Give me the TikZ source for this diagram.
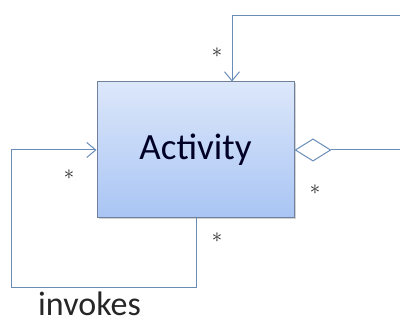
\documentclass[tikz,border=0pt]{standalone}
\usepackage{fontspec}
\setmainfont{Carlito}
\usetikzlibrary{arrows.meta,shadows}
\definecolor{linec}{HTML}{6A8DB8}
\definecolor{boxtop}{HTML}{DCE7FA}
\definecolor{boxbot}{HTML}{A9C5F4}
\definecolor{boxedge}{HTML}{6F819C}
\tikzset{
  conn/.style={draw=linec, line width=1pt},
  openarrow/.style={-{Straight Barb[length=9pt,width=15pt,line width=1pt]}},
  mult/.style={font=\fontsize{21}{21}\selectfont, text=black!85, inner sep=0pt},
  cls/.style={draw=boxedge, line width=1pt, top color=boxtop, bottom color=boxbot,
    minimum width=197pt, minimum height=136pt, inner sep=0pt,
    drop shadow={shadow xshift=1.5pt, shadow yshift=-1.5pt, opacity=0.35},
    font=\fontsize{37}{37}\selectfont, text=black!85!blue}
}
\begin{document}
\begin{tikzpicture}[x=1pt,y=-1pt]
\useasboundingbox (0,0) rectangle (400,323);
\node[cls] (act) at (195.5,150) {Activity};
% top self association
\coordinate (t1) at (400,16);
\coordinate (t2) at (232,16);
\draw[conn, openarrow] (t1) -- (t2) -- (t2 |- act.north);
\node[mult] (m1) at (217,53) {$\ast$};
% aggregation from right
\coordinate (r1) at (400,150);
\draw[conn, -{Diamond[open,fill=white,length=37pt,width=23pt,line width=1pt]}] (r1) -- (act.east);
\node[mult] (m2) at (315,190) {$\ast$};
% invokes loop
\coordinate (b1) at (196,288);
\coordinate (b2) at (11,288);
\coordinate (b3) at (11,150);
\draw[conn, openarrow] (b1 |- act.south) -- (b1) -- (b2) -- (b3) -- (act.west);
\node[mult] (m3) at (69,175) {$\ast$};
\node[mult] (m4) at (217,238) {$\ast$};
\node[font=\fontsize{34}{34}\selectfont, text=black!85, inner sep=0pt, anchor=base west] (inv) at (38,315.5) {invokes};
\end{tikzpicture}
\end{document}
